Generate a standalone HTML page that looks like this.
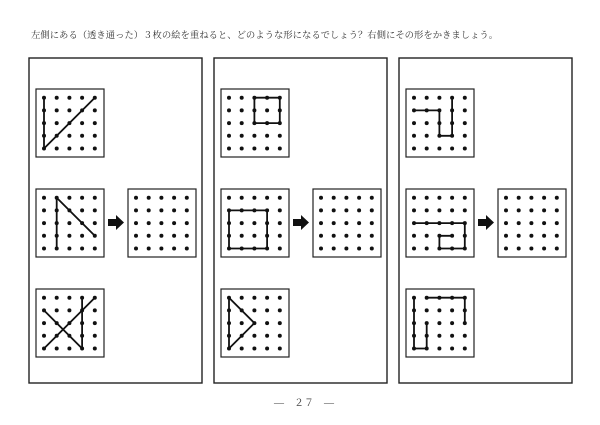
<!DOCTYPE html>
<html><head><meta charset="utf-8"><style>
html,body{margin:0;padding:0;background:#fff;width:600px;height:425px;overflow:hidden}
.t{position:absolute;left:31px;top:27px;font-family:"Liberation Serif","Noto Serif CJK SC",serif;font-size:9.35px;color:#333;white-space:nowrap}
.p{position:absolute;left:274px;top:394px;font-family:"Liberation Serif","Noto Serif CJK SC",serif;font-size:10px;color:#444;white-space:pre}
svg{position:absolute;left:0;top:0}
</style></head><body>
<div class="t">左側にある（透き通った）３枚の絵を重ねると、どのような形になるでしょう？右側にその形をかきましょう。</div>
<div class="p">―    ２７    ―</div>
<svg id="s" width="600" height="425" xmlns="http://www.w3.org/2000/svg"></svg>
<script>
var s=document.getElementById('s'),h='';
var panels=[
 [[[[0,0],[0,4],[4,0]]],[[[1,4],[1,0],[4,3]]],[[[0,4],[4,0]],[[0,1],[3,4],[3,0]]]],
 [[[[2,0],[4,0],[4,2],[2,2],[2,0]]],[[[0,1],[3,1],[3,4],[0,4],[0,1]]],[[[0,0],[0,4],[2,2],[0,0]]]],
 [[[[0,1],[2,1],[2,3],[3,3],[3,0]]],[[[0,2],[4,2],[4,4],[2,4],[2,3],[3,3]]],[[[1,0],[4,0],[4,2]],[[1,2],[1,4],[0,4],[0,0]]]]
];
function box(x,y,lines){
 h+='<rect x="'+x+'" y="'+y+'" width="68" height="68" fill="none" stroke="#222" stroke-width="1.2"/>';
 for(var i=0;i<lines.length;i++){
  var pts=lines[i].map(function(p){return (x+8+p[0]*12.7)+','+(y+8.7+p[1]*12.7)}).join(' ');
  h+='<polyline points="'+pts+'" fill="none" stroke="#111" stroke-width="1.8" stroke-linejoin="round"/>';
 }
 for(var r=0;r<5;r++)for(var c=0;c<5;c++)h+='<circle cx="'+(x+8+c*12.7)+'" cy="'+(y+8.7+r*12.7)+'" r="2" fill="#111"/>';
}
for(var k=0;k<3;k++){
 var o=k*185;
 h+='<rect x="'+(29+o)+'" y="58" width="173" height="325" fill="none" stroke="#222" stroke-width="1.4"/>';
 box(36+o,89,panels[k][0]);box(36+o,189,panels[k][1]);box(36+o,289,panels[k][2]);box(128+o,189,[]);
 h+='<polygon points="'+(108+o)+',219 '+(116+o)+',219 '+(116+o)+',215 '+(124+o)+',222.5 '+(116+o)+',230 '+(116+o)+',226 '+(108+o)+',226" fill="#111"/>';
}
s.innerHTML=h;
</script>
</body></html>
